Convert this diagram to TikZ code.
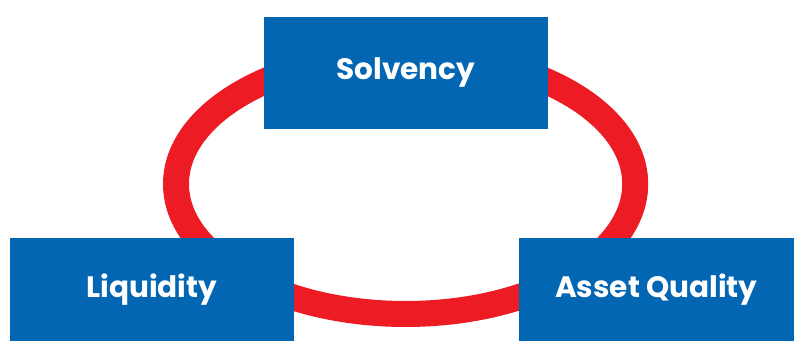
\documentclass[tikz,border=0pt]{standalone}
\usepackage{fontspec}
\setmainfont{Poppins}
\usepackage{tikz}

\definecolor{boxblue}{HTML}{0266B3}
\definecolor{ringred}{HTML}{ED1C24}

\begin{document}
\begin{tikzpicture}[
    pillar/.style={fill=boxblue, text=white, inner sep=0pt,
                   minimum width=7.09cm, minimum height=2.57cm,
                   font=\bfseries\fontsize{21}{25}\selectfont}
]
    \useasboundingbox (0,0) rectangle (19.85,-8.525);
    % ring behind the boxes
    \draw[ringred, line width=0.65cm] (10.14,-4.6) ellipse (5.74cm and 3.25cm);

    \node[pillar, minimum height=2.79cm] (S) at (10.15,-1.82) {Solvency};
    \node[pillar] (L) at (3.795,-7.2375) {Liquidity};
    \node[pillar, minimum width=6.875cm] (A) at (16.41,-7.2375) {Asset Quality};
\end{tikzpicture}
\end{document}
